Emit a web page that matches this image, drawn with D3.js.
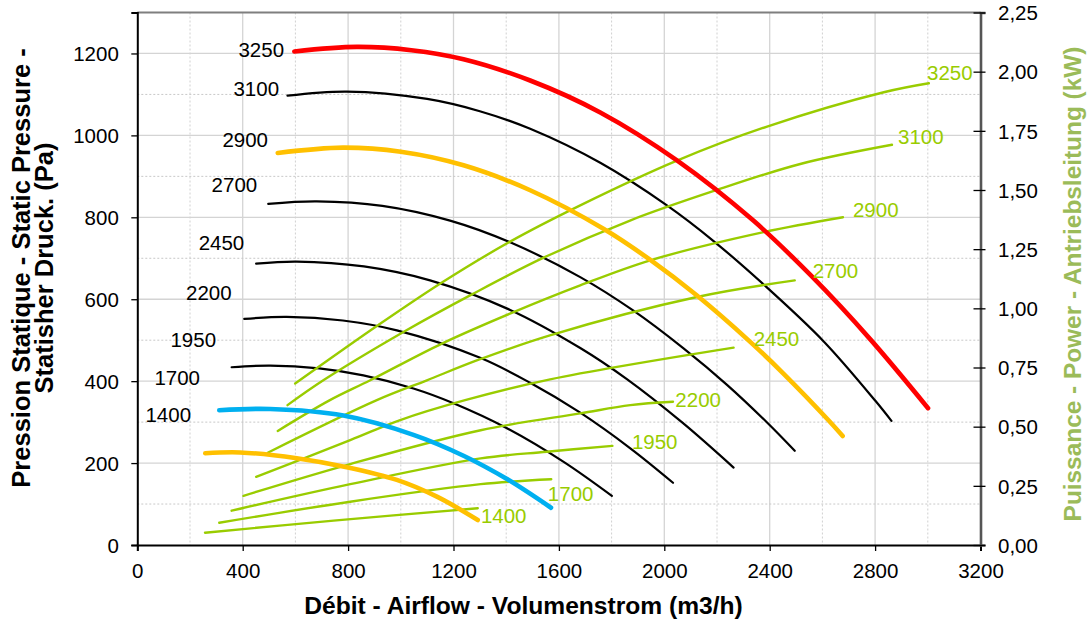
<!DOCTYPE html>
<html><head><meta charset="utf-8">
<script src="https://cdn.jsdelivr.net/npm/d3@7"></script>
<style>
body{margin:0;background:#fff}
svg{display:block}
text{font-family:"Liberation Sans",Arial,sans-serif}
</style></head>
<body><svg id="c" width="1088" height="623"></svg>
<script>
// ---------- DATA ----------
const flowTicks = [0,400,800,1200,1600,2000,2400,2800,3200];
const pressureTicks = [0,200,400,600,800,1000,1200];
const powerTicks = [0,0.25,0.5,0.75,1.0,1.25,1.5,1.75,2.0,2.25];
const rpmLabels = ["3250","3100","2900","2700","2450","2200","1950","1700","1400"];

// static pressure curves [airflow m3/h, Pa]
const p3250 = [[596,1205],[833,1216],[1040,1208],[1238,1186],[1491,1134],[1757,1056],[2048,939],[2338,792],[2561,655],[2782,502],[3001,334]];
const p3100 = [[570,1097],[795,1107],[1100,1089],[1300,1059],[1491,1016],[1757,933],[2010,829],[2187,742],[2377,636],[2605,497],[2801,352],[2862,303]];
const p2900 = [[533,957],[780,970],[1000,960],[1238,927],[1491,866],[1769,772],[1947,696],[2124,609],[2326,496],[2453,418],[2624,304],[2677,266]];
const p2700 = [[497,833],[681,839],[930,828],[1187,792],[1415,739],[1681,654],[1883,572],[2073,480],[2238,391],[2390,299],[2495,230]];
const p2450 = [[451,687],[605,692],[860,680],[1111,646],[1415,574],[1681,481],[1858,405],[2070,298],[2263,189]];
const p2200 = [[406,552],[567,557],[780,548],[985,524],[1301,457],[1491,396],[1681,323],[1871,236],[2033,152]];
const p1950 = [[358,434],[504,438],[690,431],[858,414],[1048,382],[1200,346],[1403,285],[1618,203],[1801,120]];
const p1700 = [[311,329],[504,332],[782,316],[1048,269],[1238,218],[1403,161],[1570,91]];
const p1400 = [[258,224],[390,226],[605,212],[795,190],[985,159],[1137,118],[1292,61]];

// absorbed power curves [airflow m3/h, kW]
const w3250 = [[599,0.682],[909,0.925],[1156,1.109],[1415,1.282],[1681,1.435],[2048,1.624],[2390,1.768],[2833,1.913],[3004,1.951]];
const w3100 = [[570,0.591],[706,0.696],[1010,0.900],[1270,1.059],[1542,1.214],[1870,1.371],[2194,1.498],[2516,1.610],[2864,1.691]];
const w2900 = [[533,0.482],[731,0.612],[884,0.696],[1156,0.851],[1428,0.984],[1681,1.097],[1947,1.203],[2377,1.322],[2678,1.385]];
const w2700 = [[495,0.390],[909,0.612],[1099,0.696],[1301,0.785],[1566,0.886],[2124,1.048],[2495,1.118]];
const w2450 = [[451,0.288],[808,0.443],[995,0.527],[1244,0.612],[1567,0.700],[2263,0.834]];
const w2200 = [[403,0.208],[808,0.342],[1303,0.485],[1681,0.556],[1871,0.591],[2033,0.605]];
const w1950 = [[358,0.145],[808,0.257],[1303,0.366],[1554,0.394],[1803,0.419]];
const w1700 = [[311,0.094],[808,0.183],[1303,0.257],[1571,0.278]];
const w1400 = [[257,0.052],[745,0.103],[1292,0.155]];

// label anchors in data units
const pressureLabelAt = [[557,1208],[538,1113],[496,989],[455,879],[406,738],[358,615],[299,502],[238,408],[204,317]];
const powerLabelAt = [[2997,1.994],[2887,1.726],[2716,1.418],[2563,1.160],[2339,0.873],[2042,0.612],[1877,0.436],[1558,0.215],[1304,0.122]];

const pressureSeries = [p3250,p3100,p2900,p2700,p2450,p2200,p1950,p1700,p1400];
const powerSeries = [w3250,w3100,w2900,w2700,w2450,w2200,w1950,w1700,w1400];

// ---------- STYLE ----------
const pressureColor = ["#FF0000","#000000","#FFC000","#000000","#000000","#000000","#000000","#00B0F0","#FFC000"];
const green = "#99CC00";
const fs = 20.5;

const svg = d3.select("#c");
const M = {l:137.3, r:980.5, t:12.5, b:545};
const x = d3.scaleLinear().domain([0,3200]).range([M.l,M.r]);
const yP = d3.scaleLinear().domain([0,1300]).range([M.b,M.t]);
const yK = d3.scaleLinear().domain([0,2.25]).range([M.b,M.t]);

// grid
const grid = svg.append("g");
x.ticks(16).filter(v=>v>0 && v<3200).forEach(v=>{
  const major = v%400===0;
  grid.append("line").attr("x1",x(v)).attr("x2",x(v)).attr("y1",M.t).attr("y2",M.b)
    .attr("stroke",major?"#d4d4d4":"#d0d0d0").attr("stroke-width",major?1.3:1)
    .attr("stroke-dasharray",major?null:"2,2");
});
yP.ticks(13).filter(v=>v>0 && v<1300).forEach(v=>{
  const major = v%200===0;
  grid.append("line").attr("y1",yP(v)).attr("y2",yP(v)).attr("x1",M.l).attr("x2",M.r)
    .attr("stroke",major?"#d4d4d4":"#c8c8c8").attr("stroke-width",major?1.3:1)
    .attr("stroke-dasharray",major?null:"2,2");
});

const smooth = d3.curveCatmullRom.alpha(0.5);
const lineP = d3.line().x(d=>x(d[0])).y(d=>yP(d[1])).curve(smooth);
const lineK = d3.line().x(d=>x(d[0])).y(d=>yK(d[1])).curve(smooth);

// black pressure curves
pressureSeries.forEach((s,i)=>{
  if(pressureColor[i]!=="#000000") return;
  svg.append("path").attr("d",lineP(s)).attr("fill","none").attr("stroke","#000").attr("stroke-width",2.2).attr("stroke-linecap","round");
});
// power curves
powerSeries.forEach(s=>{
  svg.append("path").attr("d",lineK(s)).attr("fill","none").attr("stroke",green).attr("stroke-width",2.4).attr("stroke-linecap","round");
});
// coloured pressure curves
pressureSeries.forEach((s,i)=>{
  if(pressureColor[i]==="#000000") return;
  svg.append("path").attr("d",lineP(s)).attr("fill","none").attr("stroke",pressureColor[i]).attr("stroke-width",4.6).attr("stroke-linecap","round");
});

// top border
svg.append("line").attr("x1",M.l).attr("x2",M.r).attr("y1",M.t).attr("y2",M.t).attr("stroke","#7f7f7f").attr("stroke-width",2);

// axes
const gx = svg.append("g").attr("transform",`translate(0,${M.b})`)
  .call(d3.axisBottom(x).tickValues(flowTicks).tickSize(6).tickFormat(d3.format("d")));
const gl = svg.append("g").attr("transform",`translate(${M.l},0)`)
  .call(d3.axisLeft(yP).tickValues(pressureTicks).tickSize(6).tickFormat(d3.format("d")));
const loc = d3.formatLocale({decimal:",",thousands:".",grouping:[3],currency:["",""]});
const gr = svg.append("g").attr("transform",`translate(${M.r},0)`)
  .call(d3.axisRight(yK).tickValues(powerTicks).tickSize(5).tickFormat(loc.format(".2f")));
[gx,gl].forEach(g=>{
  g.select(".domain").attr("stroke","#000").attr("stroke-width",2);
  g.selectAll(".tick line").attr("stroke","#000").attr("stroke-width",1.3);
});
gr.select(".domain").attr("stroke","#555").attr("stroke-width",2.6);
gr.selectAll(".tick line").attr("stroke","#000").attr("stroke-width",1.3).attr("x1",-7);
svg.selectAll(".tick text").attr("font-size",fs).attr("fill","#000").attr("font-family","Liberation Sans, Arial, sans-serif");
gx.selectAll(".tick text").attr("y",32.5).attr("dy",0);
gl.selectAll(".tick text").attr("x",-18.5).attr("dy","0.35em");
gr.selectAll(".tick text").attr("x",17.5).attr("dy","0.35em");

// curve labels
pressureLabelAt.forEach((p,i)=>{
  svg.append("text").attr("x",x(p[0])).attr("y",yP(p[1])).attr("dy","0.35em")
    .attr("text-anchor","end").attr("font-size",fs).attr("fill","#000").text(rpmLabels[i]);
});
powerLabelAt.forEach((p,i)=>{
  svg.append("text").attr("x",x(p[0])).attr("y",yK(p[1])).attr("dy","0.35em")
    .attr("text-anchor","start").attr("font-size",fs).attr("fill",green).text(rpmLabels[i]);
});

// titles
svg.append("text").attr("x",523.5).attr("y",614).attr("text-anchor","middle")
  .attr("font-size",24.6).attr("font-weight","bold").attr("fill","#000")
  .text("Débit - Airflow - Volumenstrom (m3/h)");
const lt = svg.append("text").attr("transform","translate(21,268) rotate(-90)")
  .attr("text-anchor","middle").attr("font-size",25.5).attr("font-weight","bold").attr("fill","#000");
lt.append("tspan").attr("x",0).attr("y",0).attr("dy","0.35em").text("Pression Statique - Static Pressure -");
lt.append("tspan").attr("x",0).attr("y",23.5).attr("dy","0.35em").text("Statisher Druck. (Pa)");
svg.append("text").attr("transform","translate(1072,284) rotate(-90)")
  .attr("text-anchor","middle").attr("dy","0.35em").attr("font-size",24.4).attr("font-weight","bold").attr("fill","#9BBB59")
  .text("Puissance - Power - Antriebsleitung (kW)");
</script>
</body></html>
